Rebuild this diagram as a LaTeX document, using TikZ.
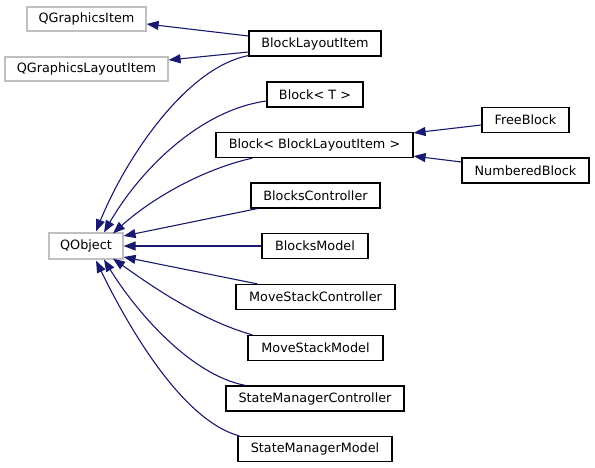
\documentclass[tikz,border=0pt]{standalone}
\usepackage{fontspec}
\setmainfont{DejaVu Sans}
\usetikzlibrary{arrows.meta}
\definecolor{edgeblue}{HTML}{191970}
\definecolor{extgray}{HTML}{BFBFBF}
\tikzset{
  cls/.style={draw=black, line width=1.2pt, fill=white, inner sep=0pt, minimum height=25pt, font=\fontsize{12.8pt}{14pt}\selectfont, text=black},
  ext/.style={cls, draw=extgray},
  inh/.style={draw=edgeblue, line width=1.1pt, -{Triangle[length=12pt,width=9pt]}, fill=none},
}
\begin{document}
\begin{tikzpicture}[x=1pt,y=-1pt]
\useasboundingbox (0,0) rectangle (595,468);
\fill[white] (0,0) rectangle (595,468);
% nodes
\node[ext, minimum width=119pt, minimum height=24pt] (QGI) at (86.5,19) {QGraphicsItem};
\node[cls, minimum width=132pt] (BLI) at (315,43.5) {BlockLayoutItem};
\node[ext, minimum width=163pt, minimum height=24pt] (QGLI) at (86.5,69) {QGraphicsLayoutItem};
\node[cls, minimum width=96pt] (BT) at (315,94.5) {Block< T >};
\node[cls, minimum width=197pt] (BBLI) at (314.5,145) {Block< BlockLayoutItem >};
\node[cls, minimum width=87pt] (FB) at (525.5,120) {FreeBlock};
\node[cls, minimum width=127pt] (NB) at (525.5,170.5) {NumberedBlock};
\node[cls, minimum width=129pt] (BC) at (315.5,195.5) {BlocksController};
\node[ext, minimum width=74pt, minimum height=26pt] (QO) at (86,246) {QObject};
\node[cls, minimum width=106pt] (BM) at (315,246) {BlocksModel};
\node[cls, minimum width=159pt] (MSC) at (315.5,297) {MoveStackController};
\node[cls, minimum width=135pt] (MSM) at (315.5,348) {MoveStackModel};
\node[cls, minimum width=178pt] (SMC) at (315,398.5) {StateManagerController};
\node[cls, minimum width=154pt] (SMM) at (315,449) {StateManagerModel};
% edges
\draw[inh] ([yshift=7.5pt]BLI.west) -- ([yshift=-5pt]QGI.east);
\draw[inh] ([yshift=-8.5pt]BLI.west) -- ([yshift=9pt]QGLI.east);
\draw[inh] ([yshift=1pt]BLI.south west) .. controls (185,68) and (125,160) .. ([xshift=10pt,yshift=1pt]QO.north);
\draw[inh] ([yshift=-6.5pt]BT.west) .. controls (200,110) and (140,170) .. ([xshift=18pt]QO.north);
\draw[inh] ([xshift=37pt]BBLI.south west) .. controls (200,170) and (150,200) .. ([xshift=27pt,yshift=-1pt]QO.north);
\draw[inh] ([xshift=7pt]BC.south west) -- ([yshift=10pt]QO.east);
\draw[inh] (BM.west) -- (QO.east);
\draw[inh] ([xshift=22pt]MSC.north west) -- ([yshift=-11pt]QO.east);
\draw[inh] ([xshift=5pt]MSM.north west) .. controls (200,320) and (150,285) .. ([xshift=27pt,yshift=1pt]QO.south);
\draw[inh] ([xshift=20pt]SMC.north west) .. controls (190,375) and (135,310) .. ([xshift=18pt]QO.south);
\draw[inh] ([xshift=2pt]SMM.north west) .. controls (180,420) and (125,320) .. ([xshift=10pt,yshift=-1pt]QO.south);
\draw[inh] ([yshift=-5pt]FB.west) -- ([yshift=-1pt]BBLI.north east);
\draw[inh] ([yshift=8.5pt]NB.west) -- ([yshift=2pt]BBLI.south east);
\end{tikzpicture}
\end{document}
